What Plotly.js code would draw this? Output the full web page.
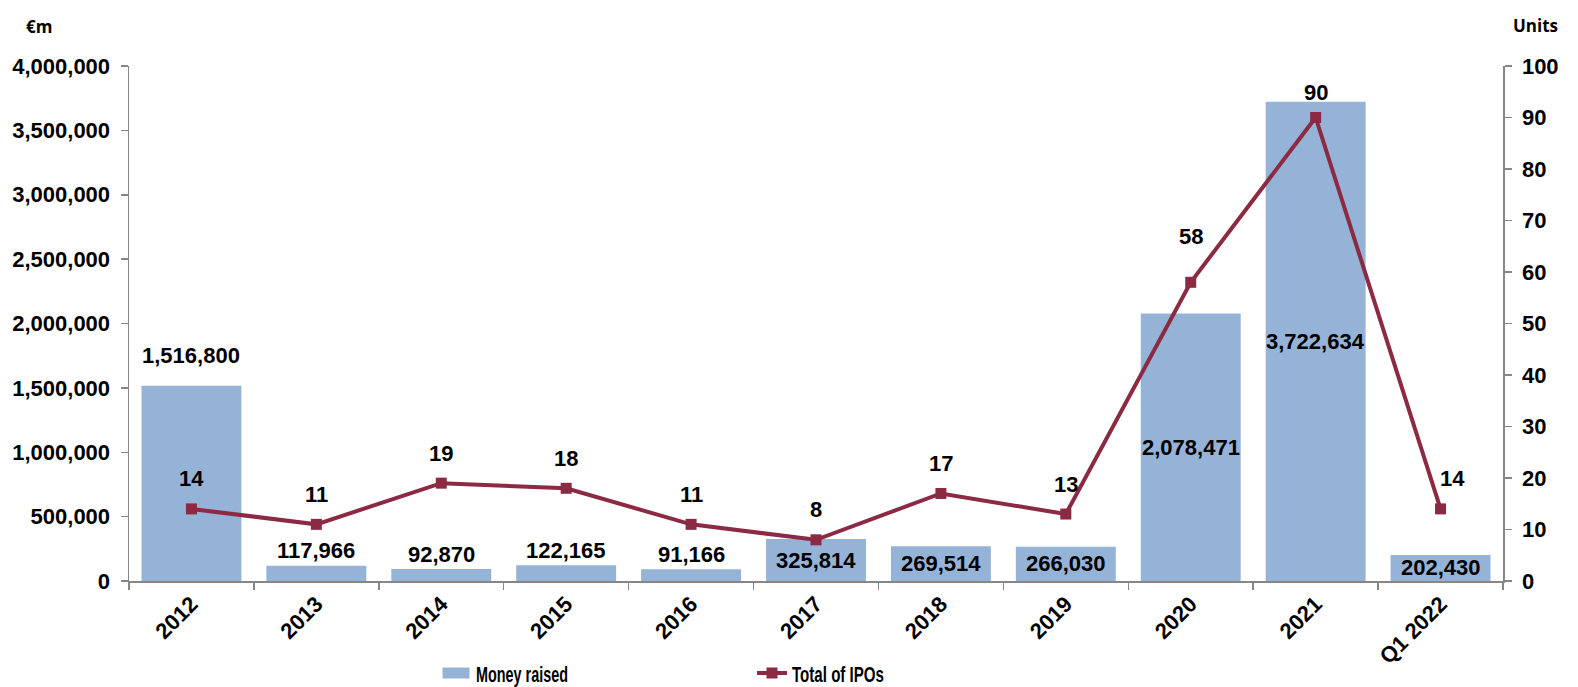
<!DOCTYPE html>
<html>
<head>
<meta charset="utf-8">
<script src="https://cdn.plot.ly/plotly-3.0.1.min.js"></script>
<style>html,body{margin:0;padding:0;background:#fff;}#chart{width:1578px;height:687px;}</style>
</head>
<body>
<div id="chart"></div>
<script>
// ---- data ----
const categories = ['2012','2013','2014','2015','2016','2017','2018','2019','2020','2021','Q1 2022'];
const moneyRaised = [1516800,117966,92870,122165,91166,325814,269514,266030,2078471,3722634,202430];
const totalIPOs = [14,11,19,18,11,8,17,13,58,90,14];

// ---- label placement (style, not data) ----
const barLabelMode = ['above','above','above','above','above','center','center','center','center','center','center'];
const barLabelShift = [30,15,15,15,15,0,0,0,0,0,0];
const lineLabelShift = [30,30,30,30,30,30,30,30,46,25,30];
const lineLabelXShift = [0,0,0,0,0,0,0,0,0,0,12];

const fmt = v => v.toLocaleString('en-US');
const FONT = 'Liberation Sans, Arial, sans-serif';
const RED = '#8C2943';
const BLUE = '#95B3D7';

const traces = [
  {type:'bar', name:'Money raised', x:categories, y:moneyRaised,
   marker:{color:BLUE}, yaxis:'y', hoverinfo:'none'},
  {type:'scatter', mode:'lines+markers', name:'Total of IPOs', x:categories, y:totalIPOs,
   yaxis:'y2', line:{color:RED, width:4}, marker:{symbol:'square', size:11, color:RED}, hoverinfo:'none'}
];

const labelFont = {family:FONT, size:22, color:'#000', weight:'bold'};
const annotations = [];
categories.forEach((c,i)=>{
  const v = moneyRaised[i];
  const above = barLabelMode[i]==='above';
  annotations.push({xref:'x', yref:'y', x:i, y: above ? v : v/2,
    yanchor:'middle', yshift: above ? barLabelShift[i] : 0,
    text: fmt(v), showarrow:false, font:labelFont});
  annotations.push({xref:'x', yref:'y2', x:i, y: totalIPOs[i], yanchor:'middle',
    yshift: lineLabelShift[i], xshift: lineLabelXShift[i],
    text: String(totalIPOs[i]), showarrow:false, font:labelFont});
});
annotations.push({xref:'paper', yref:'paper', x:-0.0655, y:1.076, xanchor:'center', yanchor:'middle',
  text:'€m', showarrow:false, font:{family:'Open Sans, sans-serif', size:17, color:'#000', weight:'bold'}});
annotations.push({xref:'paper', yref:'paper', x:1.0236, y:1.078, xanchor:'center', yanchor:'middle',
  text:'Units', showarrow:false, font:{family:'Open Sans, sans-serif', size:17, color:'#000', weight:'bold'}});

const axisFont = {family:FONT, size:22, color:'#000', weight:'bold'};
const layout = {
  width:1578, height:687,
  margin:{l:129, r:75, t:66, b:106, autoexpand:false},
  paper_bgcolor:'#fff', plot_bgcolor:'#fff',
  bargap:0.2,
  showlegend:true,
  legend:{orientation:'h', xref:'container', yref:'container', x:0.2763, y:0.02,
    xanchor:'left', yanchor:'middle',
    entrywidth:271, font:{family:FONT, size:22, color:'#000', weight:'bold'},
    traceorder:'normal', itemwidth:30},
  xaxis:{type:'category', range:[-0.5, categories.length-0.5], autorange:false, automargin:false,
    showline:true, linecolor:'#868686', linewidth:1.5,
    ticks:'outside', tickson:'boundaries', ticklen:7, tickcolor:'#868686', tickwidth:1.5,
    tickangle:-45, tickfont:axisFont, showgrid:false, zeroline:false, fixedrange:true},
  yaxis:{range:[0,4000000], autorange:false, automargin:false, dtick:500000, tickformat:',', showline:true, linecolor:'#868686', linewidth:1.5,
    ticks:'outside', ticklen:7, tickcolor:'#868686', tickwidth:1.5, tickfont:axisFont,
    ticklabelstandoff:6, showgrid:false, zeroline:false, fixedrange:true},
  yaxis2:{range:[0,100], autorange:false, automargin:false, dtick:10, overlaying:'y', side:'right', showline:true, linecolor:'#868686', linewidth:1.5,
    ticks:'outside', ticklen:7, tickcolor:'#868686', tickwidth:1.5, tickfont:axisFont,
    ticklabelstandoff:6, showgrid:false, zeroline:false, fixedrange:true},
  annotations:annotations
};

Plotly.newPlot('chart', traces, layout, {displayModeBar:false, staticPlot:true}).then(gd=>{
  // condense the legend labels like the reference's narrow type
  const widths = {'Money raised':92, 'Total of IPOs':92};
  gd.querySelectorAll('.legendtext').forEach(t=>{
    const w = widths[t.textContent];
    if (w) { t.setAttribute('textLength', w); t.setAttribute('lengthAdjust','spacingAndGlyphs'); }
  });
  // wide rectangular swatch for the bar series, as in the reference
  const first = gd.querySelector('.legend .traces');
  if (first) first.querySelectorAll('.legendpoints path').forEach(p=>{
    p.setAttribute('d','M13.5,5.5H-13.5V-5.5H13.5Z');
  });
});
</script>
</body>
</html>
